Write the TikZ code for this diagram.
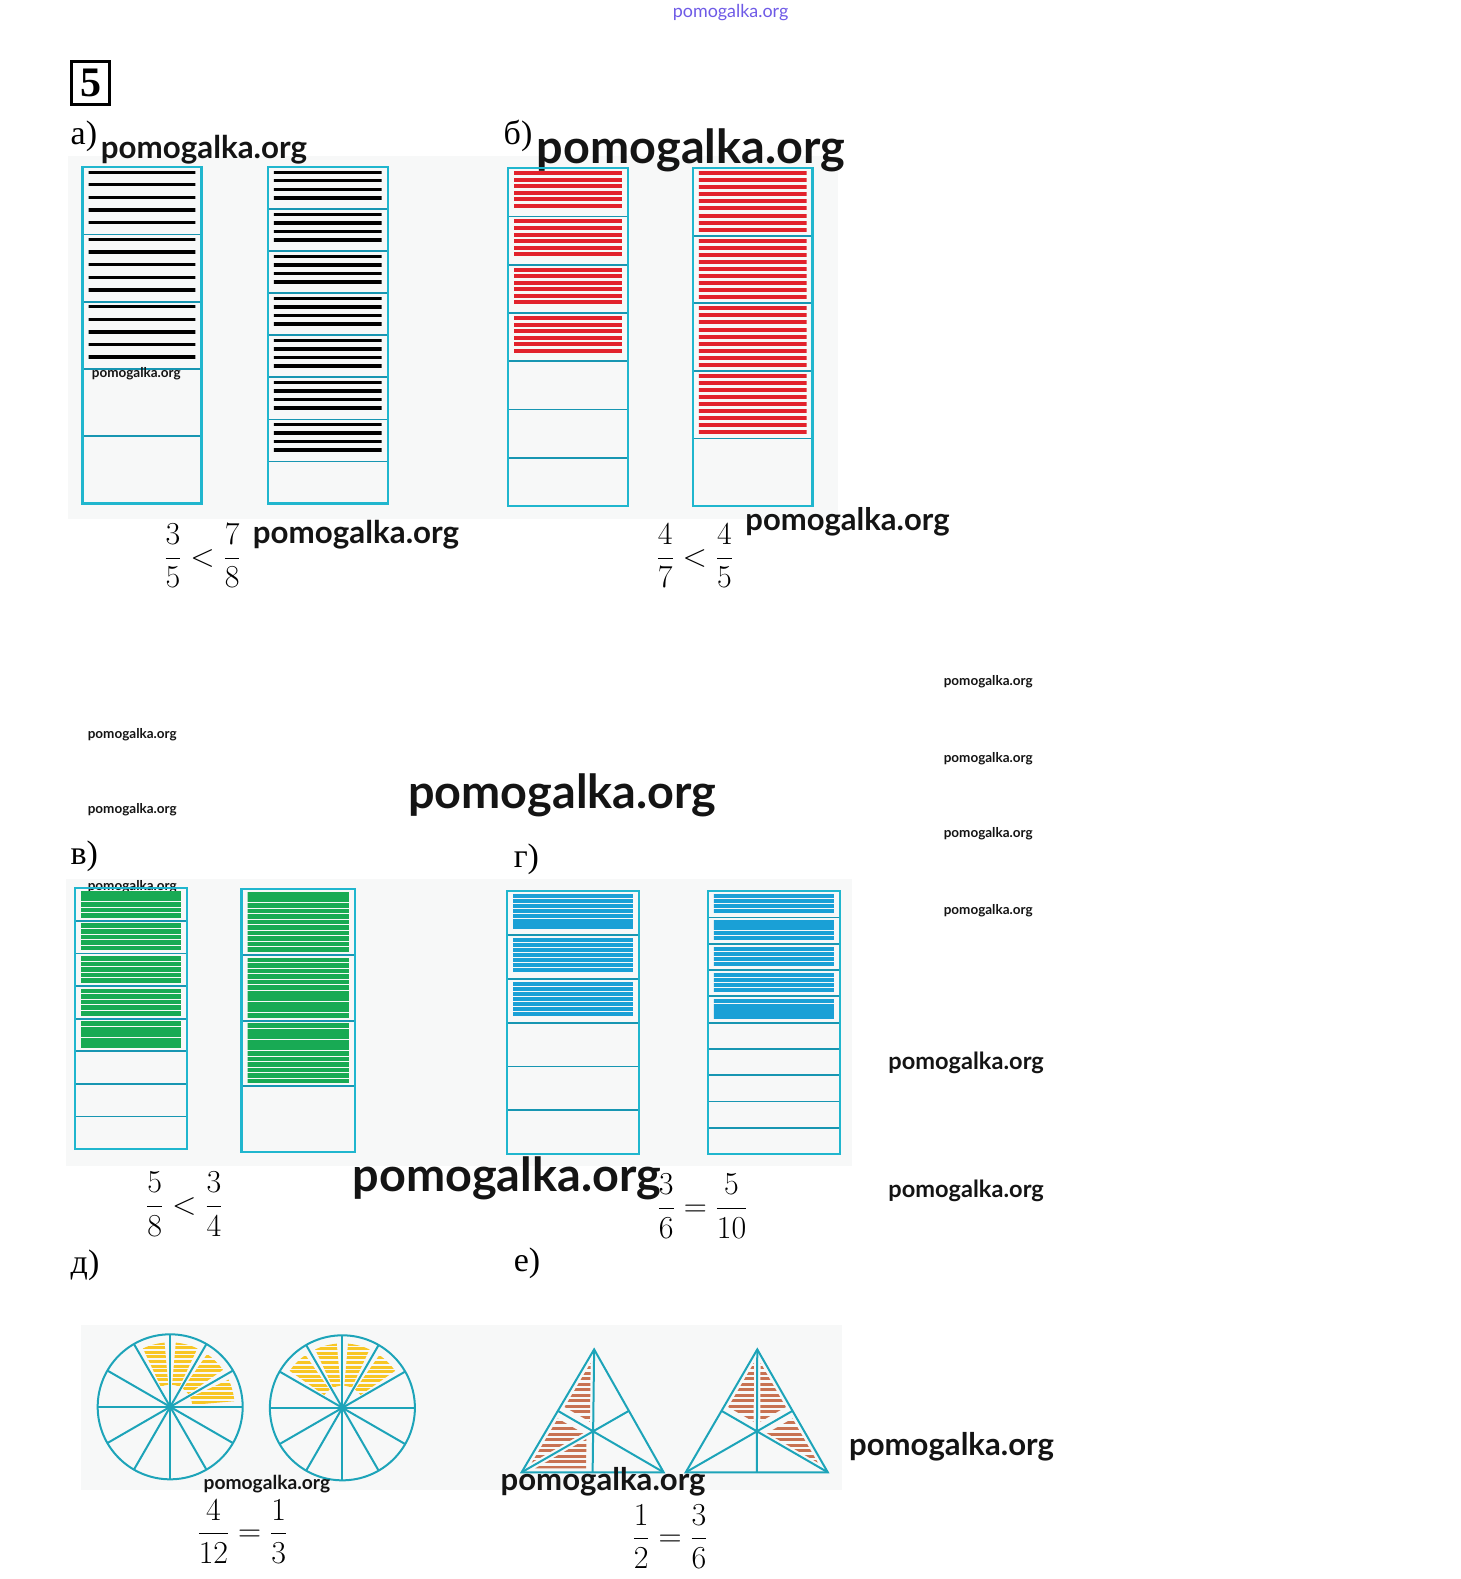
\RequirePackage{fix-cm}
\documentclass[tikz,border=0pt]{standalone}
\usepackage{amsmath}
\usepackage{fontspec}
\usepackage{tikz}
\usetikzlibrary{calc}
\newfontfamily\wmfont{Lato}
\newfontfamily\labfont{Liberation Serif}

\definecolor{boxcyan}{RGB}{32,182,206}
\definecolor{partteal}{RGB}{24,150,178}
\definecolor{stripered}{RGB}{226,34,44}
\definecolor{stripegreen}{RGB}{24,170,84}
\definecolor{stripeblue}{RGB}{26,160,214}
\definecolor{stripeyellow}{RGB}{248,198,36}
\definecolor{stripebrown}{RGB}{200,114,82}
\definecolor{scanbg}{RGB}{247,248,248}
\definecolor{wmblue}{RGB}{110,90,230}

\tikzset{
  boxline/.style={draw=boxcyan, line width=2.4},
  partline/.style={draw=partteal, line width=1.8},
  blackstripe/.style={draw=black, line width=3.4},
  redstripe/.style={draw=stripered, line width=4},
  greenstripe/.style={draw=stripegreen, line width=4.7},
  bluestripe/.style={draw=stripeblue, line width=4.2},
  yellowstripe/.style={draw=stripeyellow, line width=3},
  brownstripe/.style={draw=stripebrown, line width=3},
  shapeline/.style={draw=boxcyan!90!black, line width=2},
  lab/.style={font=\labfont\fontsize{34}{34}\selectfont, inner sep=0, anchor=base west},
  fracnode/.style={font=\fontsize{32}{38}\selectfont, inner sep=0, anchor=west},
  wm/.style={font=\wmfont\bfseries\fontsize{#1}{#1}\selectfont, inner sep=0, anchor=base west, text=black!92},
}

% strip box: left, top, right, bottom, parts, shaded parts, stripe style, stripe gap
\newcommand{\stripbox}[8]{%
  \pgfmathsetmacro{\hpart}{(#4-#2)/#5}
  \pgfmathtruncatemacro{\nlast}{#5-1}
  \foreach \i in {1,...,#6}{
    \pgfmathsetmacro{\ya}{#2+(\i-1)*\hpart+5}
    \pgfmathsetmacro{\yb}{#2+\i*\hpart-5}
    \pgfmathsetmacro{\ynext}{\ya+#8}
    \begin{scope}
      \clip (#1+6,\ya-2) rectangle (#3-6,\yb+2);
      \foreach \yy in {\ya,\ynext,...,\yb}
        \draw[#7] (#1,\yy) -- (#3,\yy);
    \end{scope}
  }
  \foreach \i in {1,...,\nlast}{
    \pgfmathsetmacro{\yd}{#2+\i*\hpart}
    \draw[partline] (#1,\yd) -- (#3,\yd);
  }
  \draw[boxline] (#1,#2) rectangle (#3,#4);
}

% hatched small triangle, shrunk toward its centre
\newcommand{\hatchtri}[3]{%
  \begin{scope}
    \coordinate (hc) at ($1/3*(#1)+1/3*(#2)+1/3*(#3)$);
    \clip ($(hc)!0.72!(#1)$) -- ($(hc)!0.72!(#2)$) -- ($(hc)!0.72!(#3)$) -- cycle;
    \foreach \yy in {1336,1341.5,...,1468}
      \draw[brownstripe] (500,\yy) -- (840,\yy);
  \end{scope}
}

\begin{document}
\begin{tikzpicture}[x=1.0069pt,y=-1.0069pt]
  \useasboundingbox (0,0) rectangle (1450,1568);
  % scanned backgrounds
  \fill[scanbg] (68,155) rectangle (832,515);
  \fill[scanbg] (66,873) rectangle (846,1158);
  \fill[scanbg] (80,1316) rectangle (836,1480);

  \node[wm=17.9, text=wmblue, font=\wmfont\fontsize{17.9}{17.9}\selectfont] (wtop) at (668,17) {pomogalka.org};
  \node[draw, line width=3.4, minimum width=38, minimum height=43, inner sep=0,
        font=\labfont\bfseries\fontsize{42}{42}\selectfont] (num) at (90,82.5) {5};

  % a)
  \node[lab] (la) at (70,143) {а)};
  \node[wm=31.3] (wa) at (100,157) {pomogalka.org};
  \stripbox{82}{166}{200}{500}{5}{3}{blackstripe}{12.5}
  \stripbox{266}{166}{385}{500}{8}{7}{blackstripe}{8.5}
  \node[wm=13.5] (wa1) at (91,375) {pomogalka.org};
  \node[fracnode] (fa) at (163,552) {$\dfrac{3}{5}<\dfrac{7}{8}$};
  \node[wm=31.3] (wfa) at (251,540) {pomogalka.org};

  % b)
  \node[lab] (lb) at (500,143) {б)};
  \node[wm=46.8] (wb) at (533,162) {pomogalka.org};
  \stripbox{504.5}{167}{623.5}{502.5}{7}{4}{redstripe}{6.5}
  \stripbox{688}{167}{807}{502.5}{5}{4}{redstripe}{7}
  \node[fracnode] (fb) at (652,552) {$\dfrac{4}{7}<\dfrac{4}{5}$};
  \node[wm=31] (wfb) at (740,527) {pomogalka.org};

  % loose marks
  \foreach \yy [count=\k] in {681,757,832,908}
    \node[wm=13.5] (wr\k) at (937,\yy) {pomogalka.org};
  \foreach \yy [count=\k] in {733,808,884}
    \node[wm=13.5] (wl\k) at (87,\yy) {pomogalka.org};
  \node[wm=46.8] (wmid) at (405,803) {pomogalka.org};

  % v)
  \node[lab] (lv) at (70,858) {в)};
  \stripbox{74.5}{882}{185.5}{1141}{8}{5}{greenstripe}{5.5}
  \stripbox{240}{883}{352.5}{1144}{4}{3}{greenstripe}{5.5}
  \node[fracnode] (fv) at (145,1196) {$\dfrac{5}{8}<\dfrac{3}{4}$};
  \node[wm=46.8] (wv) at (350,1183) {pomogalka.org};

  % g)
  \node[lab] (lg) at (510,861) {г)};
  \stripbox{503.5}{885}{634.5}{1146}{6}{3}{bluestripe}{5}
  \stripbox{703}{885}{834}{1146}{10}{5}{bluestripe}{5}
  \node[fracnode] (fg) at (653,1198) {$\dfrac{3}{6}=\dfrac{5}{10}$};
  \node[wm=23.6] (wg1) at (882,1062) {pomogalka.org};
  \node[wm=23.6] (wg2) at (882,1189) {pomogalka.org};

  % d)
  \node[lab] (ld) at (70,1265) {д)};
  \begin{scope}[shift={(169,1397)}, yscale=-1]
    \foreach \a in {0,30,60,90}{
      \begin{scope}
        \clip (\a+5:22) arc[start angle=\a+5, end angle=\a+25, radius=22]
          -- (\a+25:64) arc[start angle=\a+25, end angle=\a+5, radius=64] -- cycle;
        \foreach \yy in {-72,-67.5,...,72}
          \draw[yellowstripe] (-72,\yy) -- (72,\yy);
      \end{scope}
    }
    \draw[shapeline] (0,0) circle[radius=72];
    \foreach \a in {0,30,...,330}
      \draw[shapeline] (0,0) -- (\a:72);
  \end{scope}
  \begin{scope}[shift={(340,1398)}, yscale=-1]
    \foreach \a in {30,60,90,120}{
      \begin{scope}
        \clip (\a+5:22) arc[start angle=\a+5, end angle=\a+25, radius=22]
          -- (\a+25:64) arc[start angle=\a+25, end angle=\a+5, radius=64] -- cycle;
        \foreach \yy in {-72,-67.5,...,72}
          \draw[yellowstripe] (-72,\yy) -- (72,\yy);
      \end{scope}
    }
    \draw[shapeline] (0,0) circle[radius=72];
    \foreach \a in {0,30,...,330}
      \draw[shapeline] (0,0) -- (\a:72);
  \end{scope}
  \node[wm=19.2] (wd) at (202,1479) {pomogalka.org};
  \node[fracnode] (fd) at (196,1521) {$\dfrac{4}{12}=\dfrac{1}{3}$};

  % e)
  \node[lab] (le) at (510,1263) {е)};
  \coordinate (ta) at (590,1340);
  \coordinate (tb) at (518,1462);
  \coordinate (tc) at (659,1462);
  \coordinate (tab) at ($(ta)!0.5!(tb)$);
  \coordinate (tbc) at ($(tb)!0.5!(tc)$);
  \coordinate (tca) at ($(tc)!0.5!(ta)$);
  \coordinate (tg) at ($(ta)!2/3!(tbc)$);
  \hatchtri{ta}{tab}{tg}
  \hatchtri{tab}{tb}{tg}
  \hatchtri{tb}{tbc}{tg}
  \draw[shapeline] (ta) -- (tb) -- (tc) -- cycle;
  \draw[shapeline] (ta) -- (tbc) (tb) -- (tca) (tc) -- (tab);

  \coordinate (sa) at (752,1340);
  \coordinate (sb) at (681,1462);
  \coordinate (sc) at (822,1462);
  \coordinate (sab) at ($(sa)!0.5!(sb)$);
  \coordinate (sbc) at ($(sb)!0.5!(sc)$);
  \coordinate (sca) at ($(sc)!0.5!(sa)$);
  \coordinate (sg) at ($(sa)!2/3!(sbc)$);
  \hatchtri{sa}{sab}{sg}
  \hatchtri{sca}{sa}{sg}
  \hatchtri{sc}{sca}{sg}
  \draw[shapeline] (sa) -- (sb) -- (sc) -- cycle;
  \draw[shapeline] (sa) -- (sbc) (sb) -- (sca) (sc) -- (sab);

  \node[wm=31.1] (we) at (497,1480) {pomogalka.org};
  \node[wm=31.1] (we2) at (843,1445) {pomogalka.org};
  \node[fracnode] (fe) at (628,1526) {$\dfrac{1}{2}=\dfrac{3}{6}$};
\end{tikzpicture}
\end{document}
